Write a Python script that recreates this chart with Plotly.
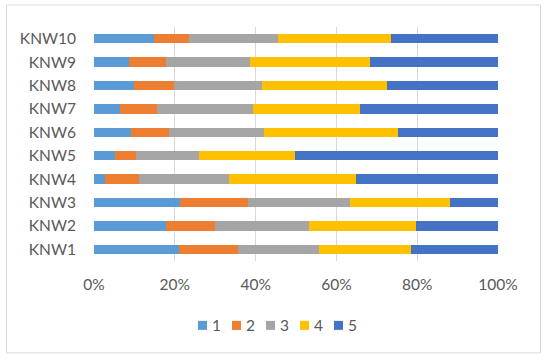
import plotly.graph_objects as go

categories = ["KNW1", "KNW2", "KNW3", "KNW4", "KNW5", "KNW6", "KNW7", "KNW8", "KNW9", "KNW10"]
series_names = ["1", "2", "3", "4", "5"]
s1 = [21.0, 17.7, 21.3, 2.6, 5.1, 9.2, 6.4, 9.8, 8.7, 14.8]
s2 = [14.6, 12.2, 16.9, 8.6, 5.3, 9.4, 9.2, 9.9, 9.0, 8.7]
s3 = [20.1, 23.4, 25.2, 22.1, 15.5, 23.6, 23.8, 21.8, 20.8, 22.0]
s4 = [22.7, 26.3, 24.6, 31.5, 23.9, 33.1, 26.4, 31.0, 29.7, 28.0]
s5 = [21.6, 20.4, 12.0, 35.2, 50.2, 24.7, 34.2, 27.5, 31.8, 26.5]
tick_vals = [0, 20, 40, 60, 80, 100]
tick_text = ["0%", "20%", "40%", "60%", "80%", "100%"]
colors = ["#5B9BD5", "#ED7D31", "#A5A5A5", "#FFC000", "#4472C4"]

W, H = 550, 360
L, R, T, B = 94, 498, 27, 260.7
FONT = "Lato"
TXT = "#595959"

def px(x):
    return (x - L) / (R - L)

def py(y):
    return (B - y) / (B - T)

fig = go.Figure()
all_series = [s1, s2, s3, s4, s5]
for name, vals, c in zip(series_names, all_series, colors):
    fig.add_trace(go.Bar(
        y=categories, x=vals, name=name, orientation="h",
        marker=dict(color=c, line=dict(width=0)),
        showlegend=False,
    ))

shapes = []
annotations = []
# chart border
shapes.append(dict(type="rect", xref="paper", yref="paper",
                   x0=px(6.5), x1=px(540.5), y0=py(352.5), y1=py(5),
                   line=dict(color="#D9D9D9", width=1), fillcolor="rgba(0,0,0,0)", layer="below"))
# manual legend
leg_left = 198
leg_step = 34
sq = 9
yc = 325
for i, (name, c) in enumerate(zip(series_names, colors)):
    x0 = leg_left + i * leg_step
    shapes.append(dict(type="rect", xref="paper", yref="paper",
                       x0=px(x0), x1=px(x0 + sq), y0=py(yc + sq / 2), y1=py(yc - sq / 2),
                       line=dict(width=0), fillcolor=c))
    annotations.append(dict(xref="paper", yref="paper", x=px(x0 + sq + 3), y=py(yc),
                            xanchor="left", yanchor="middle", text=name, showarrow=False,
                            font=dict(family=FONT, size=15.5, color=TXT)))

fig.update_layout(
    width=W, height=H, barmode="stack", bargap=0.6,
    margin=dict(l=L, r=W - R, t=T, b=H - B, pad=0),
    paper_bgcolor="white", plot_bgcolor="white",
    font=dict(family=FONT, size=15.5, color=TXT),
    shapes=shapes, annotations=annotations,
    xaxis=dict(range=[0, 100], tickvals=tick_vals, ticktext=tick_text,
               showgrid=True, gridcolor="#D9D9D9", gridwidth=1,
               zeroline=False, showline=False, ticks="",
               ticklabelstandoff=12, fixedrange=True),
    yaxis=dict(showgrid=False, zeroline=False, showline=False, ticks="",
               ticklabelstandoff=17, categoryorder="array", categoryarray=categories),
)

fig.write_html("out.html", config={"displayModeBar": False},
               post_script="document.body.style.margin='0px';")
